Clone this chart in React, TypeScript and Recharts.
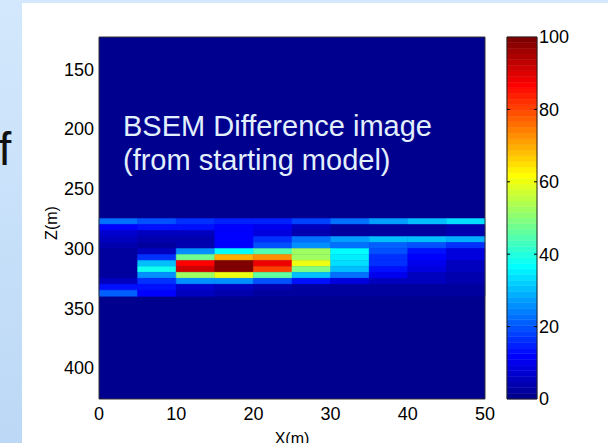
import React from 'react';
import { ComposedChart, XAxis, YAxis, ReferenceArea, ReferenceLine } from 'recharts';

// ---- data ----
const xEdges = [0, 5, 10, 15, 20, 25, 30, 35, 40, 45, 50];
const zEdges = [275, 280, 285, 290, 295, 300, 305, 310, 315, 320, 325, 330, 335, 340];
const xTicks = [0, 10, 20, 30, 40, 50];
const zTicks = [150, 200, 250, 300, 350, 400];
const colorTicks = [0, 20, 40, 60, 80, 100];
const xDomain = [0, 50];
const zDomain = [123, 426];
const colorDomain = [0, 100];

// difference values (0-100) per 5 m depth row, per 5 m x column
const z275 = [23, 20, 17, 15, 15, 18, 23, 27, 30, 33];
const z280 = [11, 14, 14, 12, 10, 6, 3, 3, 3, 4];
const z285 = [7, 5, 5, 11, 9, 4, 3, 3, 3, 4];
const z290 = [5, 4, 4, 12, 17, 22, 28, 30, 30, 29];
const z295 = [4, 3, 4, 11, 20, 25, 23, 21, 19, 17];
const z300 = [3, 5, 26, 37, 45, 52, 37, 19, 13, 9];
const z305 = [3, 17, 47, 69, 72, 53, 35, 16, 12, 8];
const z310 = [3, 30, 87, 100, 89, 60, 33, 16, 10, 6];
const z315 = [3, 38, 92, 100, 81, 49, 31, 14, 8, 5];
const z320 = [2, 25, 53, 60, 46, 30, 22, 10, 6, 4];
const z325 = [5, 16, 25, 25, 20, 13, 9, 6, 5, 4];
const z330 = [13, 13, 7, 5, 4, 3, 3, 3, 3, 3];
const z335 = [21, 12, 5, 4, 3, 3, 2, 2, 2, 2];

const grid = [z275, z280, z285, z290, z295, z300, z305, z310, z315, z320, z325, z330, z335];

const FONT = '"Liberation Sans", Arial, Helvetica, sans-serif';

function clamp01(v: number) {
  return Math.max(0, Math.min(1, v));
}
function jet(t: number): string {
  const r = clamp01(1.5 - Math.abs(4 * t - 3));
  const g = clamp01(1.5 - Math.abs(4 * t - 2));
  const b = clamp01(1.5 - Math.abs(4 * t - 1));
  const h = (x: number) => Math.round(x * 255).toString(16).padStart(2, '0');
  return '#' + h(r) + h(g) + h(b);
}
function levelColor(v: number): string {
  const idx = Math.min(63, Math.max(0, Math.floor((v / 100) * 64)));
  return jet((idx + 1) / 64);
}

const bandIdx = Array.from({ length: 64 }, (_, i) => i);

export default function App() {
  const cells = grid.flatMap((row, ri) =>
    row.map((v, ci) => {
      const c = levelColor(v);
      return (
        <ReferenceArea
          key={`c-${ri}-${ci}`}
          x1={xEdges[ci]}
          x2={xEdges[ci + 1]}
          y1={zEdges[ri]}
          y2={zEdges[ri + 1]}
          fill={c}
          fillOpacity={1}
          stroke={c}
          strokeWidth={0.5}
        />
      );
    })
  );

  const bands = bandIdx.map((i) => {
    const c = jet((i + 1) / 64);
    return (
      <ReferenceArea
        key={`b-${i}`}
        x1={0}
        x2={1}
        y1={(i * 100) / 64}
        y2={((i + 1) * 100) / 64}
        fill={c}
        fillOpacity={1}
        stroke={c}
        strokeWidth={0.5}
      />
    );
  });

  const cbTickMarks = colorTicks.slice(1, -1).flatMap((t) => [
    <ReferenceLine
      key={`tl-${t}`}
      segment={[{ x: 0, y: t }, { x: 0.1, y: t }]}
      stroke="#000"
      strokeWidth={1}
    />,
    <ReferenceLine
      key={`tr-${t}`}
      segment={[{ x: 0.9, y: t }, { x: 1, y: t }]}
      stroke="#000"
      strokeWidth={1}
    />,
  ]);

  const tickStyle = { fill: '#000', fontSize: 18, fontFamily: FONT };

  return (
    <div style={{ position: 'absolute', left: 0, top: 0, width: 608, height: 443, background: '#fff', overflow: 'hidden' }}>
      <svg width={608} height={443} style={{ position: 'absolute', left: 0, top: 0 }}>
        <defs>
          <linearGradient id="slide" x1="0" y1="0" x2="0" y2="1">
            <stop offset="0" stopColor="#d3e8fc" />
            <stop offset="1" stopColor="#bcd8f6" />
          </linearGradient>
        </defs>
        <rect x={0} y={0} width={608} height={443} fill="url(#slide)" />
        <rect x={22} y={3} width={586} height={440} fill="#ffffff" />
      </svg>

      <div style={{ position: 'absolute', left: 0, top: 0 }}>
        <ComposedChart width={608} height={443} margin={{ top: 37, right: 123, bottom: 14, left: 0 }}>
          <XAxis
            type="number"
            dataKey="x"
            domain={xDomain}
            ticks={xTicks}
            allowDataOverflow
            axisLine={false}
            tickLine={false}
            tickSize={0}
            tickMargin={8}
            height={30}
            tick={tickStyle}
            interval={0}
          />
          <YAxis
            type="number"
            dataKey="z"
            domain={zDomain}
            ticks={zTicks}
            reversed
            allowDataOverflow
            axisLine={false}
            tickLine={false}
            tickSize={0}
            tickMargin={5}
            width={99}
            tick={tickStyle}
            interval={0}
          />
          <ReferenceArea x1={0} x2={50} y1={123} y2={426} fill={levelColor(0)} fillOpacity={1} stroke="none" />
          {cells}
          <ReferenceArea x1={0} x2={50} y1={123} y2={426} fill="none" stroke="#333" strokeWidth={1} />
        </ComposedChart>
      </div>

      <div style={{ position: 'absolute', left: 0, top: 0 }}>
        <ComposedChart width={608} height={443} margin={{ top: 37, right: 0, bottom: 44, left: 507 }}>
          <XAxis type="number" dataKey="x" domain={[0, 1]} hide allowDataOverflow />
          <YAxis
            type="number"
            dataKey="v"
            orientation="right"
            domain={colorDomain}
            ticks={colorTicks}
            allowDataOverflow
            axisLine={false}
            tickLine={false}
            tickSize={0}
            tickMargin={2}
            width={71}
            tick={{ ...tickStyle, textAnchor: 'start' }}
            interval={0}
          />
          {bands}
          {cbTickMarks}
          <ReferenceArea x1={0} x2={1} y1={0} y2={100} fill="none" stroke="#222" strokeWidth={1} />
        </ComposedChart>
      </div>

      <svg width={608} height={443} style={{ position: 'absolute', left: 0, top: 0, pointerEvents: 'none' }}>
        <text x={-27} y={165} fontSize={46} fontFamily={FONT} fill="#111">of</text>
        <text x={123} y={136} fontSize={29} fontFamily={FONT} fill="#e2effc">BSEM Difference image</text>
        <text x={123} y={170} fontSize={29} fontFamily={FONT} fill="#e2effc">(from starting model)</text>
        <text x={292} y={444} fontSize={16} fontFamily={FONT} fill="#000" textAnchor="middle">X(m)</text>
        <text transform="translate(57,223) rotate(-90)" fontSize={16} fontFamily={FONT} fill="#000" textAnchor="middle">Z(m)</text>
      </svg>
    </div>
  );
}
